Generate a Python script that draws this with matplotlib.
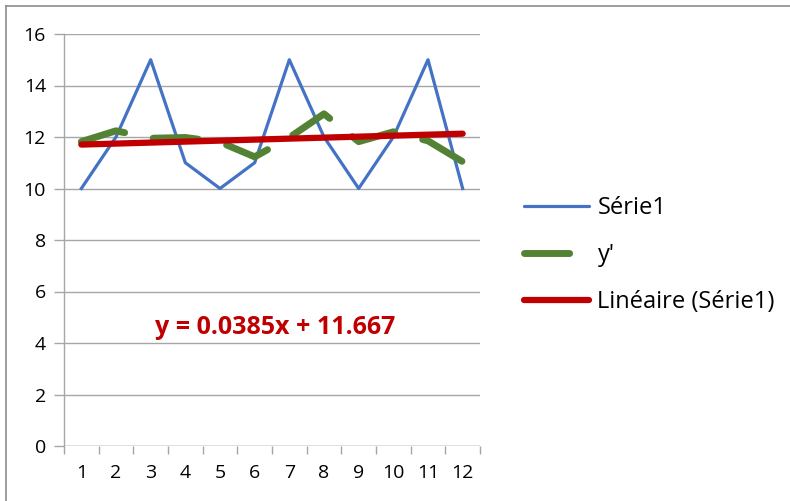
import matplotlib
matplotlib.use("Agg")
import matplotlib.pyplot as plt
from matplotlib.lines import Line2D
import numpy as np

# Data
periods = list(range(1, 13))
serie1 = [10, 12, 15, 11, 10, 11, 15, 12, 10, 12, 15, 10]
y_prime = [11.82, 12.24, 11.95, 11.98, 11.8, 11.23, 11.98, 12.9, 11.82, 12.2, 11.85, 11.04]
trend_slope = 0.0385
trend_intercept = 11.667
y_ticks = [0, 2, 4, 6, 8, 10, 12, 14, 16]

plt.rcParams['font.family'] = ['Open Sans', 'DejaVu Sans']

BLUE = '#4472C4'
GREEN = '#548235'
RED = '#C00000'
GRID = '#A6A6A6'

fig = plt.figure(figsize=(7.90, 5.01), dpi=100)
ax = fig.add_axes([64 / 790, 55 / 501, 416 / 790, 412 / 501])

x = np.array(periods)
trend = trend_slope * x + trend_intercept

blue_line, = ax.plot(x, serie1, color=BLUE, lw=2.3, solid_joinstyle='round', zorder=3)
green_line, = ax.plot(x, y_prime, color=GREEN, lw=5, dashes=(6.5, 4.2),
                      dash_capstyle='round', dash_joinstyle='round', zorder=4)
red_line, = ax.plot(x, trend, color=RED, lw=4.5, solid_capstyle='round', zorder=5)

ax.text(6.59, 4.62, f"y = {trend_slope}x + {trend_intercept}", color=RED,
        fontsize=18, fontweight='bold', ha='center', va='center')

ax.set_xlim(0.5, 12.5)
ax.set_ylim(0, 16)
ax.set_yticks(y_ticks)
ax.set_yticklabels([str(v) for v in y_ticks])
ax.set_xticks(x)
ax.set_xticklabels([str(p) for p in periods])
ax.set_xticks(np.arange(0.5, 13, 1), minor=True)

ax.grid(axis='y', color=GRID, lw=1)
ax.set_axisbelow(True)
for side in ('top', 'right', 'bottom'):
    ax.spines[side].set_visible(False)
ax.spines['left'].set_color(GRID)
ax.spines['left'].set_linewidth(1)

ax.tick_params(axis='y', length=7, color=GRID, width=1, labelsize=14, pad=6,
               labelcolor='black')
ax.tick_params(axis='x', which='major', length=0, labelsize=14, pad=13)
ax.tick_params(axis='x', which='minor', length=6, color=GRID, width=1)
ax.axhline(0, color=GRID, lw=1, zorder=2)

handles = [
    Line2D([], [], color=BLUE, lw=2.3, solid_capstyle='round'),
    Line2D([], [], color=GREEN, lw=5, dashes=(6.5, 4.2), dash_capstyle='round'),
    Line2D([], [], color=RED, lw=4.5, solid_capstyle='round'),
]
fig.legend(handles, ['Série1', "y'", 'Linéaire (Série1)'],
           loc='center left', bbox_to_anchor=(503 / 790, 1 - 255 / 501),
           frameon=False, fontsize=17, handlelength=2.75, handletextpad=0.35,
           labelspacing=0.98)

# Outer frame (left and top edges)
fig.add_artist(Line2D([5.5 / 790, 5.5 / 790], [0, 1 - 5.5 / 501],
                      transform=fig.transFigure, color='#8C8C8C', lw=1.2))
fig.add_artist(Line2D([5.5 / 790, 1], [1 - 5.5 / 501, 1 - 5.5 / 501],
                      transform=fig.transFigure, color='#8C8C8C', lw=1.2))

fig.savefig('out.png', dpi=100)
